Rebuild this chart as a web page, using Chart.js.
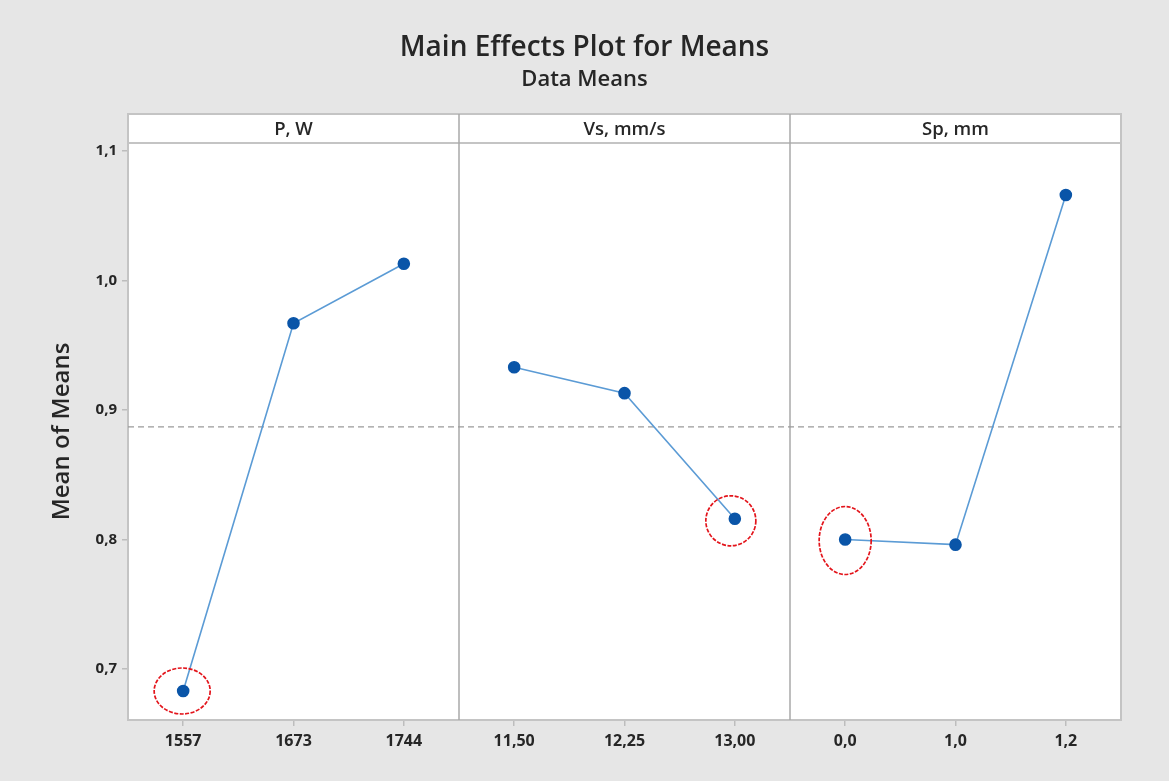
<!DOCTYPE html>
<html>
<head>
<meta charset="utf-8">
<script src="https://cdn.jsdelivr.net/npm/chart.js@4"></script>
<style>
  html, body { margin: 0; padding: 0; background: #e6e6e6; }
  #wrap { width: 1169px; height: 781px; }
</style>
</head>
<body>
<div id="wrap"><canvas id="mainEffects" width="1169" height="781"></canvas></div>
<script>
// factor levels, in panel order
const factors = ['P, W', 'Vs, mm/s', 'Sp, mm'];
const levelLabels = ['1557', '1673', '1744', '11,50', '12,25', '13,00', '0,0', '1,0', '1,2'];
const powerMeans = [0.683, 0.967, 1.013];
const speedMeans = [0.933, 0.913, 0.816];
const spacingMeans = [0.800, 0.796, 1.066];
const grandMean = 0.887;
const yTicks = [0.7, 0.8, 0.9, 1.0, 1.1];
// points circled in red: [dataset, level]
const circled = [[0, 0], [1, 2], [2, 0]];

const font = '"Open Sans", "Noto Sans", sans-serif';
const ink = '#262626';

function panelData(values, panel) {
    const out = new Array(levelLabels.length).fill(null);
    values.forEach((v, i) => { out[panel * 3 + i] = v; });
    return out;
}

function lineSet(values, panel) {
    return {
        data: panelData(values, panel),
        borderColor: '#5b9bd5',
        borderWidth: 1.6,
        pointBackgroundColor: '#0a55a8',
        pointBorderColor: '#0a55a8',
        pointRadius: 5.5,
        pointHoverRadius: 5.5,
        spanGaps: false
    };
}

const panelsPlugin = {
    id: 'panels',
    beforeDatasetsDraw(chart) {
        const { ctx, chartArea: a, scales: { x, y } } = chart;
        ctx.save();
        ctx.fillStyle = '#ffffff';
        ctx.fillRect(a.left, a.top, a.right - a.left, a.bottom - a.top);
        // header strip
        const stripTop = a.top - 29;
        ctx.fillRect(a.left, stripTop, a.right - a.left, 29);
        ctx.strokeStyle = '#c4c4c4';
        ctx.lineWidth = 2;
        ctx.strokeRect(a.left, stripTop, a.right - a.left, a.bottom - stripTop);
        ctx.beginPath();
        ctx.moveTo(a.left, a.top);
        ctx.lineTo(a.right, a.top);
        ctx.stroke();
        // panel dividers
        ctx.strokeStyle = '#a8a8a8';
        ctx.lineWidth = 1.5;
        [3, 6].forEach(i => {
            const px = (x.getPixelForValue(i - 1) + x.getPixelForValue(i)) / 2;
            ctx.beginPath();
            ctx.moveTo(px, stripTop);
            ctx.lineTo(px, a.bottom);
            ctx.stroke();
        });
        // panel names
        ctx.fillStyle = ink;
        ctx.font = '600 18.5px ' + font;
        ctx.textAlign = 'center';
        ctx.textBaseline = 'middle';
        factors.forEach((name, p) => {
            ctx.fillText(name, x.getPixelForValue(p * 3 + 1), stripTop + 16);
        });
        // grand mean reference line
        const gy = y.getPixelForValue(grandMean);
        ctx.strokeStyle = '#9a9a9a';
        ctx.lineWidth = 1.3;
        ctx.setLineDash([6, 4]);
        ctx.beginPath();
        ctx.moveTo(a.left, gy);
        ctx.lineTo(a.right, gy);
        ctx.stroke();
        ctx.restore();
    },
    afterDatasetsDraw(chart) {
        const { ctx } = chart;
        const shapes = [[-1, 0, 28, 23], [-4, 2, 25, 25], [0, 1, 26, 34]];
        ctx.save();
        ctx.strokeStyle = '#e3141b';
        ctx.lineWidth = 1.7;
        ctx.setLineDash([4, 1.5]);
        circled.forEach(([d, lvl], k) => {
            const pt = chart.getDatasetMeta(d).data[d * 3 + lvl];
            const [dx, dy, rx, ry] = shapes[k];
            ctx.beginPath();
            ctx.ellipse(pt.x + dx, pt.y + dy, rx, ry, 0, 0, Math.PI * 2);
            ctx.stroke();
        });
        ctx.restore();
    }
};

new Chart(document.getElementById('mainEffects'), {
    type: 'line',
    data: {
        labels: levelLabels,
        datasets: [lineSet(powerMeans, 0), lineSet(speedMeans, 1), lineSet(spacingMeans, 2)]
    },
    options: {
        responsive: false,
        animation: false,
        events: [],
        layout: { padding: { left: 48, right: 48, top: 0, bottom: 0 } },
        scales: {
            x: {
                offset: true,
                grid: { drawOnChartArea: false, offset: false, color: '#bdbdbd', tickLength: 6, lineWidth: 1.5 },
                border: { display: false },
                ticks: { color: ink, font: { family: font, size: 16, weight: '700' }, padding: 6, maxRotation: 0 },
                afterFit(scale) { scale.height = 61; }
            },
            y: {
                min: 0.6606,
                max: 1.1062,
                afterBuildTicks(scale) { scale.ticks = yTicks.map(v => ({ value: v })); },
                grid: { drawOnChartArea: false, color: '#bdbdbd', tickLength: 6, lineWidth: 1.5 },
                border: { display: false },
                ticks: {
                    color: ink,
                    font: { family: font, size: 15, weight: '700' },
                    padding: 5,
                    callback: v => v.toFixed(1).replace('.', ',')
                },
                title: {
                    display: true,
                    text: 'Mean of Means',
                    color: ink,
                    font: { family: font, size: 24, weight: '600' },
                    padding: { top: 0, bottom: 0 }
                },
                afterFit(scale) { scale.width = 80; }
            }
        },
        plugins: {
            legend: { display: false },
            tooltip: { enabled: false },
            title: {
                display: true,
                text: 'Main Effects Plot for Means',
                color: ink,
                font: { family: font, size: 28, weight: '600' },
                padding: { top: 31, bottom: 1 }
            },
            subtitle: {
                display: true,
                text: 'Data Means',
                color: ink,
                font: { family: font, size: 22, weight: '600' },
                padding: { top: 1, bottom: 50 }
            }
        }
    },
    plugins: [panelsPlugin]
});
</script>
</body>
</html>
